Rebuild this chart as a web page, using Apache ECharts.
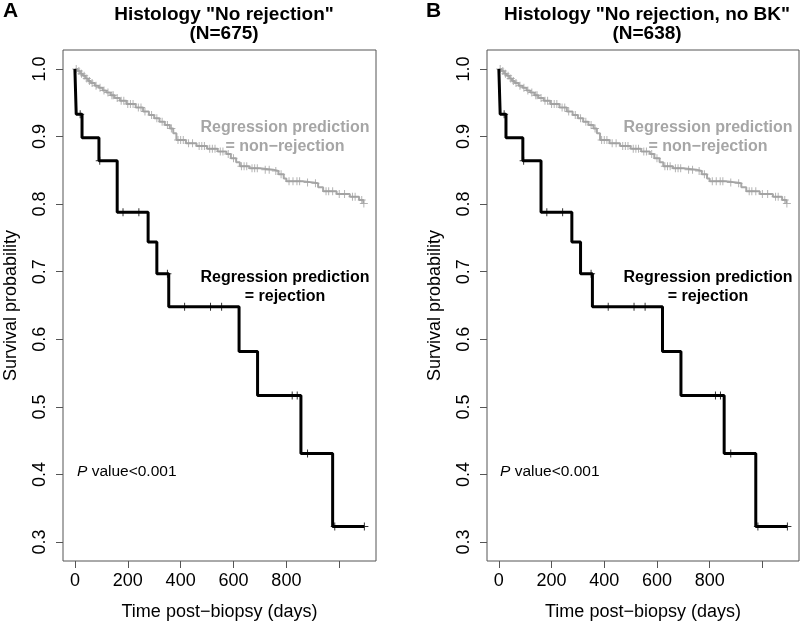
<!DOCTYPE html>
<html><head><meta charset="utf-8">
<script src="https://cdn.jsdelivr.net/npm/echarts@6/dist/echarts.min.js"></script>
<style>html,body{margin:0;padding:0;background:#fff}#c{width:800px;height:626px}</style>
</head><body><div id="c"></div>
<script>
// ---- data ----
var xTicks = [0, 200, 400, 600, 800, 1000];
var xLabels = [0, 200, 400, 600, 800];
var yTicks = [0.3, 0.4, 0.5, 0.6, 0.7, 0.8, 0.9, 1.0];

// Regression prediction = rejection (black KM curve)
var rejTimes = [0, 5, 27, 91, 160, 277, 310, 355, 621, 691, 855, 975, 1095];
var rejSurv  = [1.0, 0.933, 0.898, 0.864, 0.788, 0.744, 0.697, 0.648, 0.582, 0.517, 0.431, 0.323, 0.323];
var rejCensT = [20, 94, 182, 242, 350, 415, 513, 555, 822, 841, 880, 983, 1095];
var rejCensS = [0.933, 0.864, 0.788, 0.788, 0.697, 0.648, 0.648, 0.648, 0.517, 0.517, 0.431, 0.323, 0.323];

// Regression prediction = non-rejection (grey KM curve)
var nonTimes = [0, 10, 20, 30, 40, 50, 60, 75, 90, 105, 119, 135, 150, 170, 195, 230, 258, 280, 300, 320, 340, 359, 372, 384, 420, 460, 500, 540, 573, 590, 610, 624, 660, 700, 750, 770, 790, 800, 860, 901, 920, 939, 990, 1040, 1075, 1091, 1093];
var nonSurv  = [1.0, 0.997, 0.993, 0.990, 0.986, 0.982, 0.979, 0.975, 0.972, 0.968, 0.965, 0.961, 0.957, 0.953, 0.948, 0.943, 0.937, 0.932, 0.927, 0.922, 0.917, 0.912, 0.905, 0.895, 0.890, 0.886, 0.882, 0.878, 0.874, 0.868, 0.862, 0.856, 0.853, 0.851, 0.849, 0.844, 0.838, 0.834, 0.832, 0.831, 0.825, 0.819, 0.815, 0.811, 0.806, 0.801, 0.801];
var nonCensT = [5, 15, 25, 35, 45, 55, 65, 80, 95, 110, 125, 140, 145, 160, 175, 185, 200, 210, 220, 240, 250, 265, 290, 310, 330, 350, 365, 390, 400, 410, 430, 445, 470, 480, 490, 510, 520, 530, 550, 560, 580, 600, 630, 640, 650, 670, 680, 690, 720, 735, 760, 780, 810, 825, 840, 850, 880, 910, 950, 960, 975, 1000, 1020, 1050, 1060, 1085, 1093];

// ---- helpers ----
function pairs(t, s) { return t.map(function (v, i) { return [v, s[i]]; }); }
function lookup(times, surv, t) { var v = surv[0]; for (var i = 0; i < times.length; i++) { if (times[i] <= t) v = surv[i]; } return v; }
var nonCens = nonCensT.map(function (t) { return [t, lookup(nonTimes, nonSurv, t)]; });

var plusPath = 'path://M-0.5,-4 L0.5,-4 L0.5,-0.5 L4,-0.5 L4,0.5 L0.5,0.5 L0.5,4 L-0.5,4 L-0.5,0.5 L-4,0.5 L-4,-0.5 L-0.5,-0.5 Z';
var FONT = 'Liberation Sans, Arial, Helvetica, sans-serif';
var AX = '#555';

function xAxis(idx) {
  return {
    gridIndex: idx, type: 'value', min: -45, max: 1139,
    axisLine: { show: false, onZero: false }, splitLine: { show: false },
    axisTick: { show: true, customValues: xTicks, length: 7, lineStyle: { color: AX } },
    axisLabel: { customValues: xLabels, fontSize: 18, color: '#000', margin: 11, fontFamily: FONT },
    name: 'Time post\u2212biopsy (days)', nameLocation: 'middle', nameGap: 42,
    nameTextStyle: { fontSize: 18, color: '#000', fontFamily: FONT }
  };
}
function yAxis(idx) {
  return {
    gridIndex: idx, type: 'value', min: 0.272, max: 1.028,
    axisLine: { show: false, onZero: false }, splitLine: { show: false },
    axisTick: { show: true, customValues: yTicks, length: 7, lineStyle: { color: AX } },
    axisLabel: { customValues: yTicks, rotate: 90, fontSize: 18, color: '#000', margin: 14, fontFamily: FONT,
      formatter: function (v) { return v.toFixed(1); } },
    name: 'Survival probability', nameLocation: 'middle', nameGap: 43, nameRotate: 90,
    nameTextStyle: { fontSize: 18, color: '#000', fontFamily: FONT }
  };
}
function seriesFor(idx) {
  return [
    { type: 'line', xAxisIndex: idx, yAxisIndex: idx, step: 'end', showSymbol: false, data: pairs(nonTimes, nonSurv),
      lineStyle: { color: '#a8a8a8', width: 2 }, z: 2, animation: false },
    { type: 'scatter', xAxisIndex: idx, yAxisIndex: idx, symbol: plusPath, symbolSize: 8, data: nonCens,
      itemStyle: { color: '#a0a0a0' }, z: 2, animation: false },
    { type: 'line', xAxisIndex: idx, yAxisIndex: idx, step: 'end', showSymbol: false, data: pairs(rejTimes, rejSurv),
      lineStyle: { color: '#000', width: 3 }, z: 3, animation: false },
    { type: 'scatter', xAxisIndex: idx, yAxisIndex: idx, symbol: plusPath, symbolSize: 8, data: pairs(rejCensT, rejCensS),
      itemStyle: { color: '#000' }, z: 3, animation: false }
  ];
}
function annot(cx, cy, txt, color, size, weight) {
  return { type: 'text', x: cx, y: cy, style: { text: txt, fill: color, font: weight + ' ' + size + 'px ' + FONT, textAlign: 'center', textVerticalAlign: 'middle' } };
}
function panelGraphics(dx, letter) {
  return [
    { type: 'text', x: 3 + dx, y: 11, style: { text: letter, fill: '#000', font: 'bold 21px ' + FONT, textAlign: 'left', textVerticalAlign: 'middle' } },
    annot(285 + dx, 128, 'Regression prediction', '#a6a6a6', 16, 'bold'),
    annot(285 + dx, 147, '= non\u2212rejection', '#a6a6a6', 16, 'bold'),
    annot(285 + dx, 278, 'Regression prediction', '#000', 16, 'bold'),
    annot(285 + dx, 297, '= rejection', '#000', 16, 'bold'),
    { type: 'text', x: 77 + dx, y: 472, style: { text: '{i|P} value<0.001', fill: '#000', font: '15.5px ' + FONT, textAlign: 'left', textVerticalAlign: 'middle',
      rich: { i: { fontStyle: 'italic', fontSize: 15.5, fontFamily: FONT } } } }
  ];
}

var chart = echarts.init(document.getElementById('c'), null, { renderer: 'canvas' });
chart.setOption({
  animation: false,
  backgroundColor: '#fff',
  title: [
    { text: 'Histology "No rejection"\n(N=675)', left: 219, top: 0, textAlign: 'center',
      textStyle: { fontSize: 19, fontWeight: 'bold', color: '#000', fontFamily: FONT, lineHeight: 19 } },
    { text: 'Histology "No rejection, no BK"\n(N=638)', left: 642, top: 0, textAlign: 'center',
      textStyle: { fontSize: 19, fontWeight: 'bold', color: '#000', fontFamily: FONT, lineHeight: 19 } }
  ],
  grid: [
    { left: 63, top: 50, width: 313, height: 513, show: true, borderColor: AX, borderWidth: 1, backgroundColor: 'transparent' },
    { left: 487, top: 50, width: 312, height: 513, show: true, borderColor: AX, borderWidth: 1, backgroundColor: 'transparent' }
  ],
  xAxis: [xAxis(0), xAxis(1)],
  yAxis: [yAxis(0), yAxis(1)],
  series: seriesFor(0).concat(seriesFor(1)),
  graphic: panelGraphics(0, 'A').concat(panelGraphics(423, 'B'))
});
</script></body></html>
